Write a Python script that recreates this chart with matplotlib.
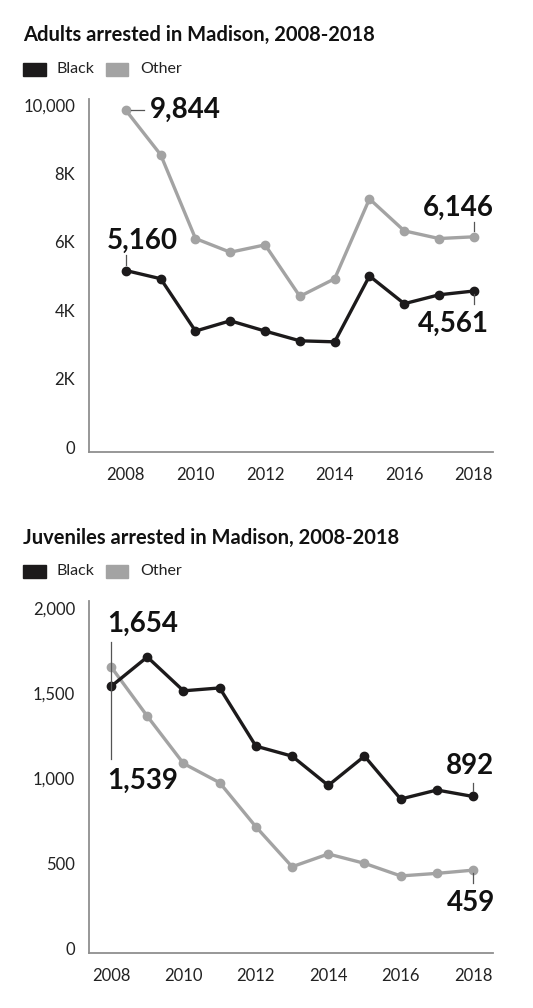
import matplotlib
matplotlib.use("Agg")
import matplotlib.pyplot as plt
import matplotlib.patches as patches
from matplotlib.transforms import ScaledTranslation

plt.rcParams['font.family'] = ['Lato', 'DejaVu Sans']

years = list(range(2008, 2019))

adult_black = [5160, 4920, 3390, 3690, 3390, 3105, 3075, 5000, 4190, 4450, 4561]
adult_other = [9844, 8545, 6095, 5695, 5910, 4405, 4920, 7255, 6320, 6095, 6146]

juv_black = [1539, 1712, 1513, 1530, 1188, 1129, 957, 1129, 877, 930, 892]
juv_other = [1654, 1364, 1086, 973, 714, 479, 554, 499, 425, 440, 459]

adult_ticks = [0, 2000, 4000, 6000, 8000, 10000]
adult_tick_labels = ['0', '2K', '4K', '6K', '8K', '10,000']
juv_ticks = [0, 500, 1000, 1500, 2000]
juv_tick_labels = ['0', '500', '1,000', '1,500', '2,000']
year_ticks = [2008, 2010, 2012, 2014, 2016, 2018]

BLACK = '#1c1a1b'
GRAY = '#a3a3a3'
AXIS = '#8f8f8f'

W, H = 533, 1008
fig = plt.figure(figsize=(W / 100, H / 100), dpi=100)


def px_axes(left, top, right, bottom):
    return fig.add_axes([left / W, 1 - bottom / H, (right - left) / W, (bottom - top) / H])


def style_axes(ax, ticks, labels):
    for s in ['top', 'right']:
        ax.spines[s].set_visible(False)
    for s in ['left', 'bottom']:
        ax.spines[s].set_color(AXIS)
        ax.spines[s].set_linewidth(1.3)
    ax.set_yticks(ticks)
    ax.set_yticklabels(labels)
    ax.set_xticks(year_ticks)
    ax.set_xticklabels([str(y) for y in year_ticks])
    ax.tick_params(axis='both', length=0, labelsize=12, colors='#222222')
    ax.tick_params(axis='y', pad=10)
    ax.tick_params(axis='x', pad=11)


def legend_and_title(title, title_y, legend_y):
    fig.text(23 / W, 1 - title_y / H, title, fontsize=14.5, fontweight='bold',
             va='center', ha='left', color='#111111')
    fig.patches.append(patches.Rectangle((23 / W, 1 - (legend_y + 6.5) / H), 23 / W, 13 / H,
                                         transform=fig.transFigure, color=BLACK))
    fig.text(57 / W, 1 - legend_y / H, 'Black', fontsize=11.5, va='center', color='#222222')
    fig.patches.append(patches.Rectangle((106 / W, 1 - (legend_y + 6.5) / H), 22 / W, 13 / H,
                                         transform=fig.transFigure, color=GRAY))
    fig.text(140 / W, 1 - legend_y / H, 'Other', fontsize=11.5, va='center', color='#222222')


def plot_series(ax, vals, color):
    ax.plot(years, vals, color=color, lw=2.4, marker='o', ms=6, zorder=3, clip_on=False)


def value_label(ax, x, y, dx, dy, ha):
    ax.annotate(f'{y:,}', (x, y), xytext=(dx, dy), textcoords='offset points',
                fontsize=20, fontweight='bold', ha=ha, va='center', color='#111111')


def connector(ax, x, y, off0, off1):
    # short leader line, offsets in points from the data point
    t0 = ax.transData + ScaledTranslation(off0[0] / 72, off0[1] / 72, fig.dpi_scale_trans)
    t1 = ax.transData + ScaledTranslation(off1[0] / 72, off1[1] / 72, fig.dpi_scale_trans)
    p0 = t0.transform((x, y))
    p1 = t1.transform((x, y))
    fig.lines.append(plt.Line2D([p0[0], p1[0]], [p0[1], p1[1]], transform=None,
                                color='#555555', lw=0.9))


# adults
legend_and_title('Adults arrested in Madison, 2008-2018', 35, 69)
ax1 = px_axes(89, 99, 493, 452)
ax1.set_xlim(2006.94, 2018.55)
ax1.set_ylim(-146, 10175)
style_axes(ax1, adult_ticks, adult_tick_labels)
plot_series(ax1, adult_other, GRAY)
plot_series(ax1, adult_black, BLACK)

value_label(ax1, years[0], adult_other[0], 17, 0, 'left')
value_label(ax1, years[0], adult_black[0], -14, 21, 'left')
value_label(ax1, years[-1], adult_other[-1], 14, 21, 'right')
value_label(ax1, years[-1], adult_black[-1], 11, -24, 'right')

# juveniles
legend_and_title('Juveniles arrested in Madison, 2008-2018', 538, 571)
ax2 = px_axes(89, 601, 493, 953)
ax2.set_xlim(2007.39, 2018.55)
ax2.set_ylim(-28, 2041)
style_axes(ax2, juv_ticks, juv_tick_labels)
plot_series(ax2, juv_other, GRAY)
plot_series(ax2, juv_black, BLACK)

value_label(ax2, years[0], juv_other[0], -3, 31, 'left')
value_label(ax2, years[0], juv_black[0], -3, -68, 'left')
value_label(ax2, years[-1], juv_black[-1], 15, 22, 'right')
value_label(ax2, years[-1], juv_other[-1], 16, -24, 'right')

connector(ax1, years[0], adult_other[0], (4, 0), (13, 0))
connector(ax1, years[0], adult_black[0], (0, 4), (0, 11))
connector(ax1, years[-1], adult_other[-1], (0, 4), (0, 11))
connector(ax1, years[-1], adult_black[-1], (0, -2), (0, -9))
connector(ax2, years[0], juv_other[0], (0, 18), (0, -66))
connector(ax2, years[-1], juv_black[-1], (0, 4), (0, 10))
connector(ax2, years[-1], juv_other[-1], (0, -2), (0, -9))

fig.savefig('out.png', dpi=100)
